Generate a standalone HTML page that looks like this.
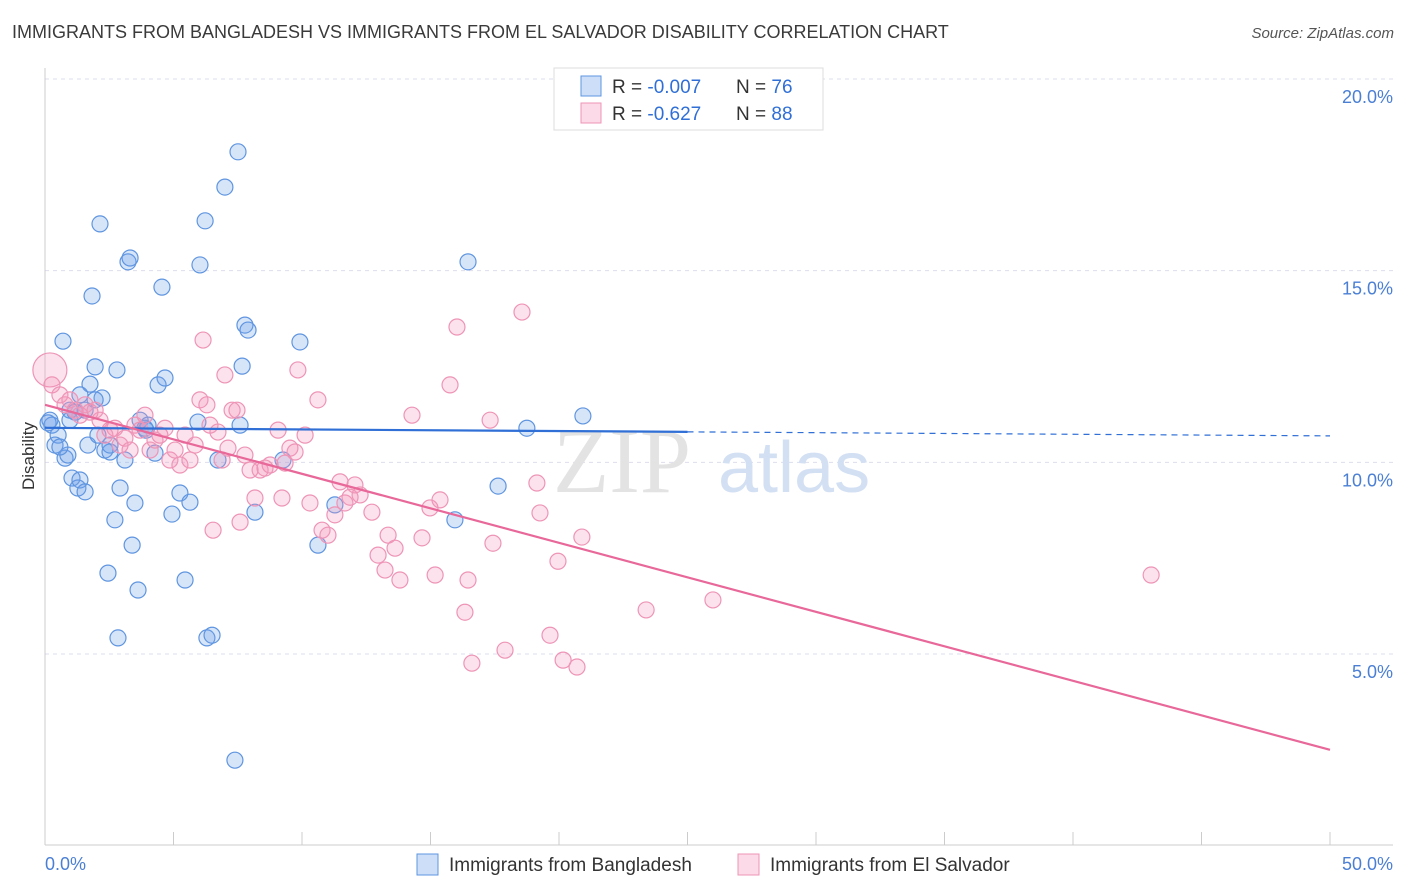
<!DOCTYPE html>
<html><head><meta charset="utf-8">
<style>
body{margin:0;background:#fff;font-family:"Liberation Sans",sans-serif;}
#wrap{position:relative;width:1406px;height:892px;overflow:hidden;}
.t{position:absolute;white-space:nowrap;}
</style></head>
<body>
<div id="wrap">
<div class="t" style="left:12px;top:22px;font-size:18px;color:#3a3a3a;">IMMIGRANTS FROM BANGLADESH VS IMMIGRANTS FROM EL SALVADOR DISABILITY CORRELATION CHART</div>
<div class="t" style="right:12px;top:25px;font-size:15px;color:#555;font-style:italic;">Source: ZipAtlas.com</div>
<svg id="svg" width="1406" height="892" style="position:absolute;left:0;top:0"></svg>
</div>
<script>
const xTickVals=[0,5,10,15,20,25,30,35,40,45,50];
const yTickVals=[5,10,15,20];
const yTickLabels=["5.0%","10.0%","15.0%","20.0%"];
const blueX=[0.19,0.27,0.51,0.39,0.70,0.78,0.89,0.97,1.05,1.17,1.28,1.36,1.56,1.67,1.75,1.83,1.95,2.06,2.14,2.22,2.33,2.53,2.72,2.80,2.84,2.92,3.11,3.23,3.31,3.39,3.50,3.62,3.70,3.89,4.01,4.28,4.40,4.55,4.67,4.94,5.25,5.45,5.64,5.95,6.03,6.23,6.30,6.50,6.73,7.00,7.51,7.59,7.67,7.78,7.90,8.17,9.26,9.92,10.62,11.28,15.95,16.46,17.63,18.75,20.93,7.39,2.45,3.93,0.97,0.58,0.12,1.56,1.36,1.95,2.53];
const blueY=[11.10,10.97,10.71,10.45,13.16,10.11,10.19,11.36,9.59,11.31,9.33,9.54,9.23,10.45,12.04,14.34,12.49,10.71,16.22,11.68,10.32,10.27,8.50,12.41,5.42,9.33,10.06,15.23,15.33,7.84,8.94,6.67,11.10,10.89,10.97,10.24,12.02,14.57,12.20,8.65,9.20,6.93,8.96,11.05,15.15,16.30,5.42,5.49,10.06,17.18,18.10,10.97,12.51,13.58,13.45,8.70,10.06,13.14,7.84,8.89,8.50,15.23,9.38,10.89,11.21,2.23,7.11,10.84,11.10,10.40,11.03,11.36,11.76,11.63,10.45];
const pinkX=[0.19,0.27,0.58,0.78,0.97,1.17,1.36,1.56,1.75,1.95,2.14,2.33,2.53,2.72,2.92,3.11,3.31,3.50,3.70,3.89,4.09,4.28,4.47,4.67,4.86,5.06,5.25,5.45,5.64,5.84,6.03,6.15,6.30,6.42,6.54,6.73,6.89,7.00,7.12,7.28,7.47,7.59,7.78,7.98,8.17,8.37,8.56,8.76,9.07,9.22,9.34,9.53,9.73,9.84,10.12,10.31,10.62,10.78,11.01,11.28,11.48,11.67,11.87,12.06,12.26,12.72,12.96,13.23,13.35,13.62,13.81,14.28,14.67,14.98,15.18,15.37,15.76,16.03,16.34,16.46,16.61,17.32,17.43,17.90,18.56,19.14,19.26,19.65,19.96,20.16,20.70,20.89,23.39,25.99,43.04];
const pinkY=[12.41,12.02,11.76,11.50,11.63,11.36,11.23,11.50,11.31,11.36,11.10,10.71,10.84,10.89,10.45,10.63,10.32,10.97,10.84,11.23,10.32,10.58,10.71,10.89,10.06,10.32,9.93,10.71,10.06,10.45,11.63,13.19,11.50,10.97,8.23,10.79,10.06,12.28,10.37,11.36,11.36,8.44,10.19,9.80,9.07,9.80,9.85,9.93,10.84,9.07,9.98,10.37,10.27,12.41,10.71,8.94,11.63,8.23,8.10,8.63,9.49,8.94,9.09,9.41,9.15,8.70,7.58,7.19,8.10,7.76,6.93,11.23,8.03,8.81,7.06,9.02,12.02,13.53,6.09,6.93,4.76,11.10,7.89,5.10,13.92,9.46,8.68,5.49,7.42,4.84,4.66,8.05,6.15,6.41,7.06];
const blueTrend=[10.90,10.69];
const pinkTrend=[11.50,2.50];

const X0=45,X1=1330,YT=79,YB=654;
const xs=v=>X0+(X1-X0)*v/50;
const ys=v=>YB-(YB-YT)*(v-5)/15;
const svg=document.getElementById('svg');
const NS='http://www.w3.org/2000/svg';
function mk(tag,attrs){const e=document.createElementNS(NS,tag);for(const k in attrs)e.setAttribute(k,attrs[k]);svg.appendChild(e);return e;}

// gridlines & y labels
yTickVals.forEach((v,i)=>{
  const g=mk('line',{x1:X0,x2:1393,y1:ys(v),y2:ys(v),stroke:'#dde',"stroke-dasharray":'4,4'});
  
  
  const t=mk('text',{x:1393,y:ys(v)+24,"text-anchor":'end',"font-size":18,fill:'#4a7fd4'});
  t.textContent=yTickLabels[i];
  
  
});
// axes
const ya=mk('line',{x1:X0,x2:X0,y1:68,y2:845,stroke:'#ccc'});


const xa=mk('line',{x1:X0,x2:1393,y1:845,y2:845,stroke:'#ccc'});


xTickVals.forEach(v=>{
  const l=mk('line',{x1:xs(v),x2:xs(v),y1:832,y2:845,stroke:'#ccc'});
  
  
});
[[0,"0.0%",'start',45],[50,"50.0%",'end',1393]].forEach(a=>{
  const t=mk('text',{x:a[3],y:870,"text-anchor":a[2],"font-size":18,fill:'#4a7fd4'});
  t.textContent=a[1];
  
  
});
// y title
const yt=mk('text',{x:34,y:456,"text-anchor":'middle',"font-size":17,fill:'#333',transform:'rotate(-90 34 456)'});
yt.textContent='Disability';


// watermark
const w1=mk('text',{x:553,y:492,"font-size":92,fill:'#e3e3e3',"font-family":'Liberation Serif'});
w1.textContent='ZIP';


const w2=mk('text',{x:718,y:492,"font-size":72,fill:'#d3e0f3'});
w2.textContent='atlas';



// points
blueX.forEach((x,i)=>{
  const c=mk('circle',{cx:xs(x),cy:ys(blueY[i]),r:8,fill:'rgba(110,160,235,0.28)',stroke:'#5f95e0',"stroke-width":1.2});
  
  
});
pinkX.forEach((x,i)=>{
  const c=mk('circle',{cx:xs(x),cy:ys(pinkY[i]),r:i===0?17:8,fill:'rgba(245,150,185,0.28)',stroke:'#ee94b6',"stroke-width":1.2});
  
  
});
// trends
const bMid=blueTrend[0]+(blueTrend[1]-blueTrend[0])*25/50;
const b1=mk('line',{x1:xs(0),y1:ys(blueTrend[0]),x2:xs(25),y2:ys(bMid),stroke:'#2f6fd6',"stroke-width":2.2});


const b2=mk('line',{x1:xs(25),y1:ys(bMid),x2:xs(50),y2:ys(blueTrend[1]),stroke:'#2f6fd6',"stroke-width":1.2,"stroke-dasharray":'6,5'});


const p1=mk('line',{x1:xs(0),y1:ys(pinkTrend[0]),x2:xs(50),y2:ys(pinkTrend[1]),stroke:'#e8689a',"stroke-width":2.2});



// legend box
const lb=mk('rect',{x:554,y:68,width:269,height:62,fill:'#fff',stroke:'#ddd'});


[[{f:'rgba(110,160,235,0.35)',s:'#5f95e0'},"-0.007","76",86],[{f:'rgba(245,150,185,0.35)',s:'#ee94b6'},"-0.627","88",113]].forEach((r,i)=>{
  const sq=mk('rect',{x:581,y:r[3]-10,width:20,height:20,fill:r[0].f,stroke:r[0].s});
  
  
  const t=mk('text',{x:612,y:r[3]+7,"font-size":19,fill:'#333'});
  t.innerHTML='R = <tspan fill="#2f6fd6">'+r[1]+'</tspan><tspan x="736">N = </tspan><tspan fill="#2f6fd6">'+r[2]+'</tspan>';
  
  
});
// bottom legend
[[417,'rgba(110,160,235,0.35)','#5f95e0','Immigrants from Bangladesh'],[738,'rgba(245,150,185,0.35)','#ee94b6','Immigrants from El Salvador']].forEach(a=>{
  const sq=mk('rect',{x:a[0],y:854,width:21,height:21,fill:a[1],stroke:a[2]});
  
  
  const t=mk('text',{x:a[0]+32,y:871,"font-size":19,fill:'#333'});
  t.textContent=a[3];
  
  
});
</script>
</body></html>
